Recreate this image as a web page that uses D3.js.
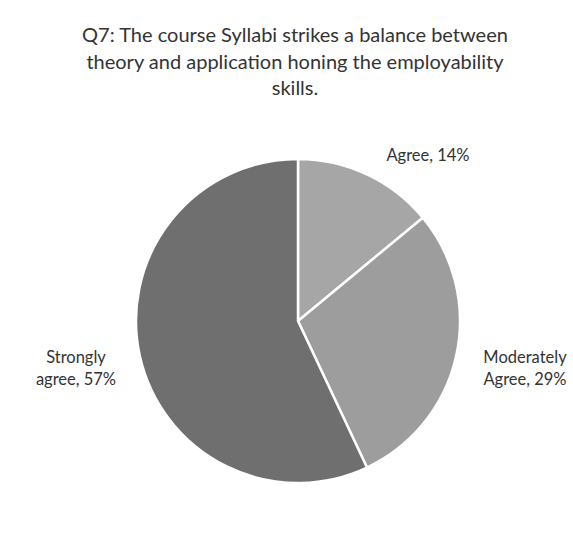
<!DOCTYPE html>
<html><head><meta charset="utf-8">
<script src="https://cdn.jsdelivr.net/npm/d3@7"></script>
<style>body{margin:0;background:#fff}svg{display:block}</style>
</head><body>
<script>
const titleLines = ["Q7: The course Syllabi strikes a balance between","theory and application honing the employability","skills."];
const categories = ["Agree","Moderately Agree","Strongly agree"];
const values = [14, 29, 57];
const labelLines = [["Agree, 14%"],["Moderately","Agree, 29%"],["Strongly","agree, 57%"]];
const colors = ["#a6a6a6","#9d9d9d","#6f6f6f"];

const W=573,H=540;
const svg=d3.select("body").append("svg").attr("width",W).attr("height",H);
svg.append("rect").attr("width",W).attr("height",H).attr("fill","#fff");
const font="Lato, 'Open Sans', sans-serif";

const tg=svg.append("g").attr("font-family",font).attr("fill","#333").attr("text-anchor","middle");
titleLines.forEach((t,i)=>{
  tg.append("text").attr("x",295).attr("y",42+i*26.5).attr("font-size",20).text(t);
});

const cx=298,cy=321,r=162;
const pie=d3.pie().sort(null).value(d=>d)(values);
const arc=d3.arc().innerRadius(0).outerRadius(r);
const g=svg.append("g").attr("transform",`translate(${cx},${cy})`);
g.selectAll("path").data(pie).join("path").attr("d",arc)
 .attr("fill",(d,i)=>colors[i]).attr("stroke","#fff").attr("stroke-width",2.5).attr("stroke-linejoin","round");

const labelPos=[[428,161],[525,363],[76,363]];
const lg=svg.append("g").attr("font-family",font).attr("fill","#333").attr("font-size",16.5).attr("text-anchor","middle");
labelLines.forEach((lines,i)=>{
  lines.forEach((l,j)=>{
    lg.append("text").attr("x",labelPos[i][0]).attr("y",labelPos[i][1]+j*22).text(l);
  });
});
</script>
</body></html>
